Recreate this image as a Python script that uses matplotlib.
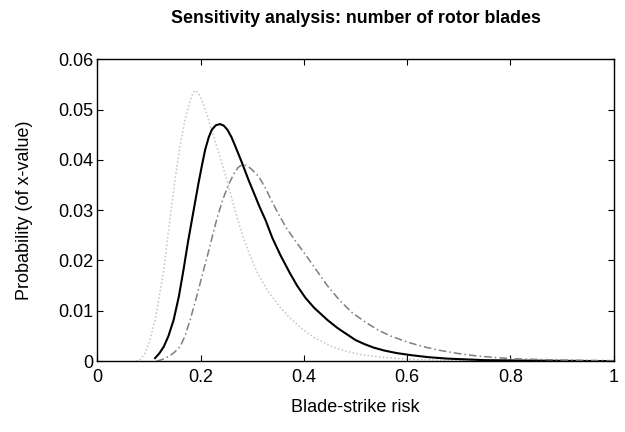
import matplotlib
matplotlib.use("Agg")
import matplotlib.pyplot as plt
from matplotlib.ticker import FormatStrFormatter, FixedLocator

plt.rcParams['font.family'] = ['Liberation Sans', 'DejaVu Sans']

# Light dotted curve
x_dotted = [0.075, 0.083, 0.093, 0.102, 0.112, 0.120, 0.129, 0.1315, 0.140, 0.150,
            0.159, 0.169, 0.180, 0.186, 0.190, 0.196, 0.205, 0.214, 0.2225, 0.235,
            0.251, 0.262, 0.271, 0.284, 0.2965, 0.310, 0.330, 0.355, 0.371, 0.394,
            0.420, 0.452, 0.480, 0.516, 0.560, 0.600, 0.700, 0.800, 1.000]
p_dotted = [0.0, 0.0003, 0.0016, 0.0042, 0.0082, 0.0128, 0.0181, 0.0205, 0.0275, 0.0355,
            0.0420, 0.0475, 0.0518, 0.0534, 0.0538, 0.0533, 0.0513, 0.0485, 0.0455, 0.0415,
            0.0360, 0.0318, 0.0285, 0.0242, 0.0208, 0.0176, 0.0140, 0.0106, 0.0088, 0.0066,
            0.0047, 0.0030, 0.0020, 0.0012, 0.0007, 0.0004, 0.0001, 0.0, 0.0]

# Black solid curve
x_solid = [0.112, 0.120, 0.129, 0.138, 0.148, 0.158, 0.167, 0.176, 0.185, 0.196,
           0.203, 0.209, 0.216, 0.222, 0.230, 0.238, 0.245, 0.252, 0.260, 0.267,
           0.280, 0.293, 0.305, 0.315, 0.326, 0.339, 0.355, 0.373, 0.387, 0.403,
           0.420, 0.4455, 0.465, 0.481, 0.500, 0.517, 0.535, 0.556, 0.580, 0.607,
           0.640, 0.678, 0.750, 0.850, 1.000]
p_solid = [0.0006, 0.0015, 0.0029, 0.0050, 0.0082, 0.0128, 0.0181, 0.0238, 0.0290, 0.0353,
           0.0390, 0.0420, 0.0445, 0.0460, 0.0469, 0.0471, 0.0468, 0.0460, 0.0445, 0.0428,
           0.0395, 0.0360, 0.0330, 0.0305, 0.0280, 0.0245, 0.0210, 0.0175, 0.0150, 0.0126,
           0.0106, 0.0082, 0.0066, 0.0055, 0.0042, 0.0034, 0.0027, 0.0021, 0.0016, 0.0012,
           0.0008, 0.0005, 0.0002, 0.0001, 0.0]

# Gray dash-dot curve
x_dashdot = [0.115, 0.125, 0.140, 0.150, 0.1606, 0.170, 0.180, 0.193, 0.206, 0.214,
             0.224, 0.232, 0.2435, 0.254, 0.265, 0.273, 0.280, 0.288, 0.297, 0.3127,
             0.325, 0.338, 0.350, 0.366, 0.385, 0.403, 0.425, 0.4455, 0.470, 0.494,
             0.520, 0.545, 0.568, 0.600, 0.627, 0.660, 0.700, 0.737, 0.800, 0.900, 1.000]
p_dashdot = [0.0, 0.0003, 0.0010, 0.0018, 0.0029, 0.0050, 0.0082, 0.0130, 0.0181, 0.0212,
             0.0252, 0.0284, 0.0322, 0.0350, 0.0373, 0.0385, 0.0390, 0.0389, 0.0383, 0.0367,
             0.0345, 0.0318, 0.0294, 0.0265, 0.0237, 0.0212, 0.0180, 0.0150, 0.0120, 0.0096,
             0.0077, 0.0061, 0.0050, 0.0038, 0.0030, 0.0022, 0.0015, 0.0010, 0.0005, 0.0002, 0.0001]

x_ticks = [0, 0.2, 0.4, 0.6, 0.8, 1.0]
y_ticks = [0, 0.01, 0.02, 0.03, 0.04, 0.05, 0.06]

fig = plt.figure(figsize=(6.25, 4.32), dpi=100)
ax = fig.add_axes([0.1555, 0.164, 0.8265, 0.699])

ax.plot(x_dotted, p_dotted, color='#c4c4c4', linestyle=(0, (1, 1.5)), linewidth=1.1)
ax.plot(x_solid, p_solid, color='black', linestyle='-', linewidth=1.5)
ax.plot(x_dashdot, p_dashdot, color='#7f7f7f', linestyle=(0, (5, 2, 1, 2)), linewidth=1.1)

ax.set_xlim(0, 1)
ax.set_ylim(0, 0.06)
ax.xaxis.set_major_locator(FixedLocator(x_ticks))
ax.yaxis.set_major_locator(FixedLocator(y_ticks))
ax.xaxis.set_major_formatter(FormatStrFormatter('%g'))
ax.yaxis.set_major_formatter(FormatStrFormatter('%g'))
ax.tick_params(direction='in', top=True, right=True, length=4, width=0.8,
               labelsize=13)
ax.tick_params(axis='x', pad=6)
ax.tick_params(axis='y', pad=3)
for s in ax.spines.values():
    s.set_linewidth(1.0)

ax.set_title('Sensitivity analysis: number of rotor blades', fontsize=12.8,
             fontweight='bold', pad=26)
ax.set_xlabel('Blade-strike risk', fontsize=13, labelpad=9)
ax.set_ylabel('Probability (of x-value)', fontsize=13, labelpad=18)

fig.savefig('out.png', dpi=100)
